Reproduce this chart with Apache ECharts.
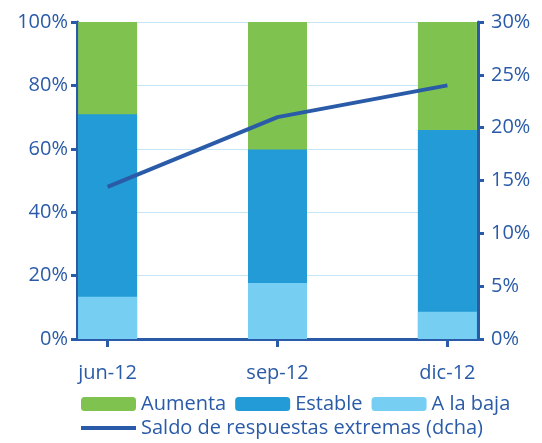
<!DOCTYPE html>
<html>
<head>
<meta charset="utf-8">
<script src="https://cdn.jsdelivr.net/npm/echarts@6/dist/echarts.min.js"></script>
<style>html,body{margin:0;padding:0;background:#fff}#c{width:542px;height:443px}</style>
</head>
<body>
<div id="c"></div>
<script>
var categories = ['jun-12', 'sep-12', 'dic-12'];
var aLaBaja = [13.3, 17.7, 8.6];
var estable = [57.6, 42.1, 57.3];
var aumenta = [29.1, 40.2, 34.1];
var saldo = [14.4, 21.0, 24.0];
var leftTicks = [0, 20, 40, 60, 80, 100];
var rightTicks = [0, 5, 10, 15, 20, 25, 30];

var NAVY = '#2a5ba8';
var FONT = 'Open Sans';
var FS = 20;
var idx = categories.map(function (c, i) { return i; });
// stacked tops (segments drawn overlapping, upper segment behind lower)
var topBaja = aLaBaja.map(function (v, i) { return [i, v]; });
var topEstable = aLaBaja.map(function (v, i) { return [i, v + estable[i]]; });
var topAumenta = aLaBaja.map(function (v, i) { return [i, v + estable[i] + aumenta[i]]; });
var saldoPts = saldo.map(function (v, i) { return [i, v]; });

var chart = echarts.init(document.getElementById('c'));
chart.setOption({
  animation: false,
  textStyle: { fontFamily: FONT },
  grid: { left: 77, right: 64, top: 22, bottom: 104, containLabel: false },
  legend: [
    {
      data: ['Aumenta', 'Estable', 'A la baja'],
      left: 76, top: 389,
      itemWidth: 55, itemHeight: 14, itemGap: 9,
      textStyle: { color: NAVY, fontSize: FS, fontFamily: FONT }
    },
    {
      data: [{ name: 'Saldo de respuestas extremas (dcha)', icon: 'rect' }],
      left: 76, top: 413,
      itemWidth: 55, itemHeight: 4,
      textStyle: { color: NAVY, fontSize: FS, fontFamily: FONT }
    }
  ],
  xAxis: {
    type: 'value', min: -0.18, max: 2.18,
    axisLine: { show: true, onZero: false, lineStyle: { color: NAVY, width: 3 } },
    axisTick: { show: true, customValues: idx, length: 8, lineStyle: { color: NAVY, width: 3 } },
    axisLabel: {
      customValues: idx, color: NAVY, fontSize: FS, margin: 24, fontFamily: FONT,
      formatter: function (v) { return categories[Math.round(v)]; }
    },
    splitLine: { show: false }
  },
  yAxis: [
    {
      type: 'value', min: 0, max: 100, interval: 20,
      axisLine: { show: true, onZero: false, lineStyle: { color: NAVY, width: 3 } },
      axisTick: { show: true, length: 6, lineStyle: { color: NAVY, width: 3 } },
      axisLabel: { color: NAVY, fontSize: FS, margin: 9, fontFamily: FONT, formatter: '{value}%' },
      splitLine: { show: true, lineStyle: { color: '#c4e6f6', width: 1 } }
    },
    {
      type: 'value', min: 0, max: 30, interval: 5, position: 'right',
      axisLine: { show: true, onZero: false, lineStyle: { color: NAVY, width: 3 } },
      axisTick: { show: true, length: 6, lineStyle: { color: NAVY, width: 3 } },
      axisLabel: { color: NAVY, fontSize: FS, margin: 13, fontFamily: FONT, formatter: '{value}%' },
      splitLine: { show: false }
    }
  ],
  series: [
    { name: 'Aumenta', type: 'bar', barWidth: 59, barGap: '-100%', data: topAumenta,
      itemStyle: { color: '#7fc24f' }, z: 2 },
    { name: 'Estable', type: 'bar', barWidth: 59, barGap: '-100%', data: topEstable,
      itemStyle: { color: '#229bd7' }, z: 3 },
    { name: 'A la baja', type: 'bar', barWidth: 59, barGap: '-100%', data: topBaja,
      itemStyle: { color: '#76cff3' }, z: 4 },
    { name: 'Saldo de respuestas extremas (dcha)', type: 'line', yAxisIndex: 1,
      data: saldoPts, symbol: 'none', z: 6,
      lineStyle: { color: NAVY, width: 4 }, itemStyle: { color: NAVY } }
  ]
});
</script>
</body>
</html>
